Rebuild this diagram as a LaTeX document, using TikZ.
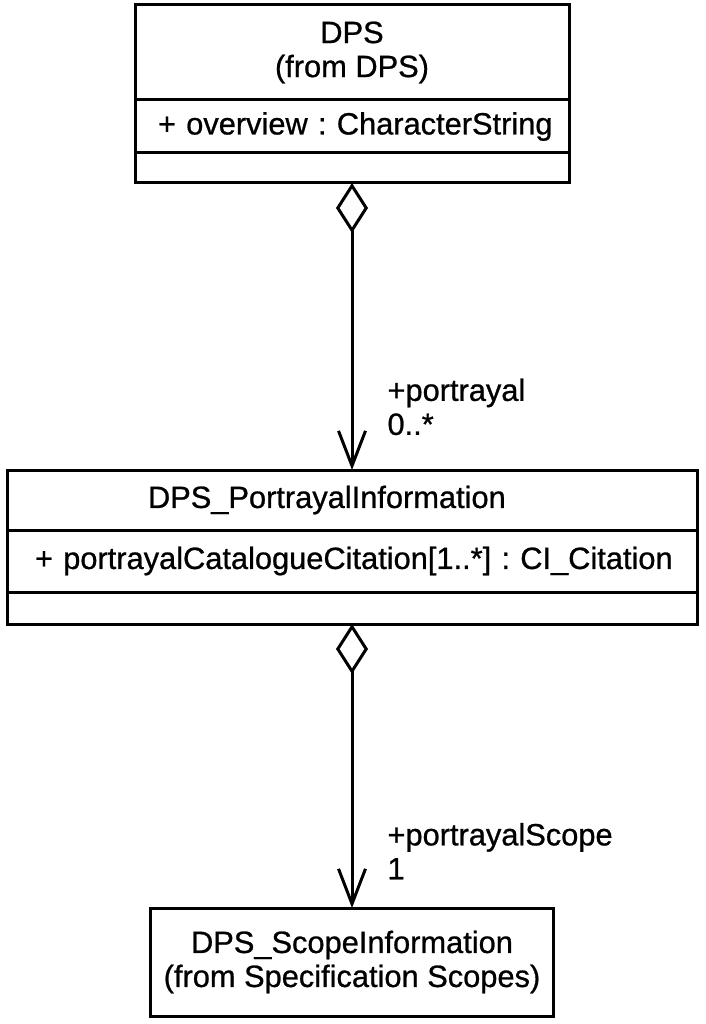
\documentclass[tikz,border=0pt]{standalone}
\usepackage{fontspec}
\setmainfont{Liberation Sans}[FakeBold=0.8]
\usetikzlibrary{positioning,arrows.meta}

\tikzset{
  umlfont/.style={font=\fontsize{30.8}{34}\selectfont\addfontfeatures{FakeBold=0.8}\frenchspacing},
  part/.style={draw, line width=3pt, inner sep=0pt, outer sep=0pt, umlfont, align=center},
  attr/.style={part, align=left},
  assoc/.style={line width=3pt, {Diamond[open,length=50pt,width=32pt]}-{Straight Barb[length=35pt,width=27pt]}},
  role/.style={umlfont, align=left, anchor=west, inner sep=0pt},
}

\begin{document}
\begin{tikzpicture}[x=1pt,y=-1pt]
\useasboundingbox (0,0) rectangle (705,1024);
% DPS class
\node[part, minimum width=434pt, minimum height=95pt] (dpsName) at (352,52.5) {DPS\\(from DPS)};
\node[attr, text width=388pt, inner xsep=23pt, minimum height=53pt, below=0pt of dpsName] (dpsAttr) {\mbox{+ overview : CharacterString}};
\node[part, minimum width=434pt, minimum height=30pt, below=0pt of dpsAttr] (dpsOps) {};
% DPS_PortrayalInformation class
\node[attr, text width=408pt, inner xsep=141pt, minimum height=60pt] (portName) at (352,500) {\mbox{DPS\_PortrayalInformation}};
\node[attr, text width=634pt, inner xsep=28pt, minimum height=62pt, below=0pt of portName] (portAttr) {\mbox{+ portrayalCatalogueCitation[1..*] : CI\_Citation}};
\node[part, minimum width=690pt, minimum height=32pt, below=0pt of portAttr] (portOps) {};
% DPS_ScopeInformation class
\node[part, minimum width=403pt, minimum height=108pt] (scopeInfo) at (352,962) {DPS\_ScopeInformation\\(from Specification Scopes)};
% aggregations
\draw[assoc] (dpsOps.south) -- (portName.north) node[role, pos=0.78, xshift=34pt] (roleA) {+portrayal\\0..*};
\draw[assoc] (portOps.south) -- (scopeInfo.north) node[role, pos=0.80, xshift=34pt] (roleB) {+portrayalScope\\1};
\end{tikzpicture}
\end{document}
